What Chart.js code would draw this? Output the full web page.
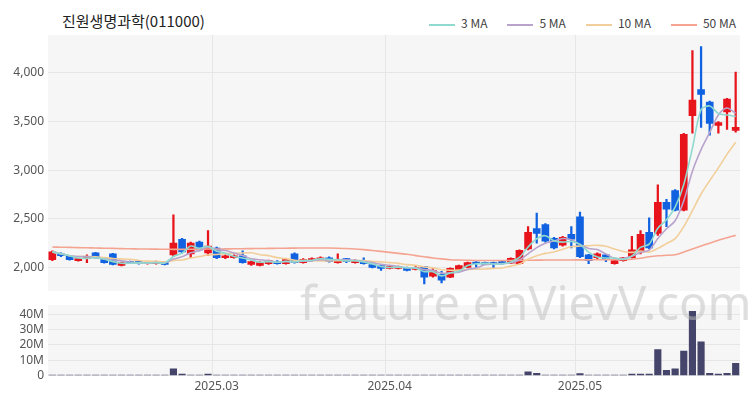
<!DOCTYPE html>
<html><head><meta charset="utf-8">
<script src="https://cdn.jsdelivr.net/npm/chart.js@4"></script>
<style>
body{margin:0;width:750px;height:400px;background:#fff;font-family:"Noto Sans CJK KR","Noto Sans",sans-serif;position:relative;overflow:hidden}
canvas{position:absolute;left:0}
#title{position:absolute;left:62px;top:10px;font-size:15px;color:#222}
#legend{position:absolute;right:14px;top:14px;font-size:12px;color:#444;display:flex;gap:20px}
#legend span i{display:inline-block;width:26px;height:2px;vertical-align:middle;margin-right:6px}
#wm{position:absolute;left:300px;top:270px;font-size:47px;color:rgba(190,190,190,0.5);font-family:"Noto Sans",sans-serif;z-index:5}
</style></head>
<body>
<div id="title">진원생명과학(011000)</div>
<div id="legend">
<span><i style="background:#8fd9cf"></i>3 MA</span>
<span><i style="background:#b9a3cc"></i>5 MA</span>
<span><i style="background:#f2cf9a"></i>10 MA</span>
<span><i style="background:#f4a491"></i>50 MA</span>
</div>
<div id="wm">feature.enVievV.com</div>
<canvas id="price" width="750" height="302" style="top:0"></canvas>
<canvas id="vol" width="750" height="106" style="top:294px"></canvas>
<script>
// 거래일 (2025.02.04 ~ 2025.05.30)
const holidays = ['2025-03-03','2025-05-01','2025-05-05','2025-05-06'];
const dates = [];
for (let d = new Date(Date.UTC(2025,1,4)); d <= new Date(Date.UTC(2025,4,30)); d.setUTCDate(d.getUTCDate()+1)) {
	const s = d.toISOString().slice(0,10);
	if (d.getUTCDay() === 0 || d.getUTCDay() === 6 || holidays.includes(s)) continue;
	dates.push(s);
}
const tickDates = ['2025-03-04','2025-04-01','2025-05-02'];
const tickLabels = ['2025.03','2025.04','2025.05'];

const opens  = [2080,2140,2120,2070,2090,2150,2090,2140,2020,2060, 2060,2040,2040,2050,2130,2290,2140,2260,2150,2200,
	2100,2100,2120,2030,2020,2040,2060,2040,2140,2050, 2070,2080,2100,2050,2090,2050,2060,2030,2020,1990,
	1990,2000,1980,2010,1910,1930,1900,1970,2000,2055, 2050,2050,2060,2045,2040,2190,2400,2440,2300,2230,
	2340,2520,2130,2100,2130,2040,2070,2100,2160,2360, 2350,2670,2790,2590,3560,3830,3700,3460,3600,3410];
const closes = [2160,2120,2080,2090,2110,2100,2050,2030,2050,2050, 2040,2050,2060,2030,2250,2160,2250,2180,2220,2100,
	2120,2120,2050,2060,2050,2070,2040,2080,2050,2080, 2090,2100,2060,2080,2060,2070,2040,2000,1990,2010,
	2010,1970,2000,1900,1970,1870,1990,2020,2050,2040, 2035,2030,2040,2095,2175,2360,2350,2270,2200,2310,
	2290,2110,2070,2140,2080,2070,2100,2180,2340,2200, 2670,2600,2590,3370,3720,3780,3480,3490,3730,3440];
const highs  = [2170,2150,2125,2095,2130,2155,2095,2145,2055,2065, 2065,2055,2065,2055,2540,2300,2260,2270,2380,2210,
	2130,2130,2170,2065,2060,2075,2070,2085,2150,2090, 2100,2110,2110,2140,2095,2080,2100,2040,2025,2020,
	2015,2005,2010,2010,1990,1960,1995,2025,2055,2060, 2055,2055,2065,2100,2180,2420,2560,2450,2310,2320,
	2420,2570,2135,2150,2135,2075,2105,2320,2380,2510, 2850,2700,2800,3380,4230,4270,3710,3500,3740,4010];
const lows   = [2070,2110,2075,2065,2050,2095,2045,2025,2015,2045, 2035,2035,2035,2025,2110,2150,2100,2170,2120,2090,
	2090,2095,2045,2020,2015,2030,2035,2035,2045,2045, 2065,2075,2055,2045,2050,2045,2035,1995,1970,1985,
	1985,1965,1975,1830,1900,1840,1895,1965,1995,2000, 2030,1990,2035,2040,2035,2180,2250,2260,2190,2220,
	2200,2100,2040,2090,2060,2035,2065,2095,2140,2190, 2330,2420,2580,2580,3380,3440,3360,3380,3420,3390];
const ma50 = [2210,2208,2206,2204,2202,2200,2198,2196,2194,2192, 2190,2189,2188,2187,2186,2186,2187,2188,2189,2190,
	2191,2192,2193,2194,2195,2196,2197,2198,2199,2200, 2200,2200,2200,2198,2195,2190,2183,2175,2165,2155,
	2145,2135,2122,2110,2098,2088,2080,2076,2074,2072, 2072,2072,2072,2072,2073,2074,2075,2076,2076,2077,
	2077,2078,2078,2079,2079,2080,2082,2085,2095,2110, 2120,2125,2130,2160,2190,2220,2250,2280,2305,2330];
const volumes = [0.3,0.2,0.2,0.2,0.2,0.3,0.2,0.3,0.2,0.2, 0.2,0.2,0.2,0.2,4.5,1.0,0.4,0.2,1.0,0.3,
	0.2,0.2,0.2,0.2,0.2,0.2,0.2,0.2,0.2,0.2, 0.2,0.2,0.2,0.2,0.2,0.2,0.2,0.2,0.2,0.2,
	0.2,0.2,0.2,0.4,0.2,0.3,0.3,0.2,0.2,0.2, 0.2,0.2,0.2,0.3,0.4,2.5,1.5,0.4,0.3,0.3,
	0.4,1.3,0.3,0.3,0.3,0.2,0.3,1.0,1.0,1.0, 17,3.5,4.5,16,42,22,1.5,1.0,1.5,8].map(v => v*1e6);

const RED = '#e8141c', BLUE = '#1162e0';
const up = closes.map((c,i) => c >= opens[i]);
const candleColor = up.map(u => u ? RED : BLUE);

function movingAvg(n){
	return closes.map((c,i) => {
		const from = Math.max(0, i-n+1);
		const part = closes.slice(from, i+1);
		return part.reduce((a,b)=>a+b,0)/part.length;
	});
}

const plotBg = {
	id:'plotBg',
	beforeDraw(chart){
		const {ctx, chartArea:a} = chart;
		ctx.save(); ctx.fillStyle = '#f6f6f6';
		ctx.fillRect(a.left, a.top, a.right-a.left, a.bottom-a.top);
		ctx.restore();
	}
};

const xGrid = {color: ctx => ctx.tick && tickDates.includes(dates[ctx.tick.value]) ? '#e6e6e6' : 'rgba(0,0,0,0)', drawTicks:false};
const fixWidth = s => { s.width = 48; };
const tickFont = {family:'"Noto Sans", sans-serif', size:12};

function maLine(label, data, color){
	return {type:'line', label, data, borderColor:color, borderWidth:1.6, pointRadius:0, tension:0.3, order:0};
}

new Chart(document.getElementById('price'), {
	data: {
		labels: dates,
		datasets: [
			maLine('3 MA', movingAvg(3), '#8fd9cf'),
			maLine('5 MA', movingAvg(5), '#b9a3cc'),
			maLine('10 MA', movingAvg(10), '#f2cf9a'),
			maLine('50 MA', ma50, '#f4a491'),
			{type:'bar', data: lows.map((l,i)=>[l,highs[i]]), backgroundColor:candleColor, barThickness:1.6, grouped:false, order:2},
			{type:'bar', data: opens.map((o,i)=>[o,closes[i]]), backgroundColor:candleColor, barThickness:7, grouped:false, order:1},
		]
	},
	options: {
		responsive:false, animation:false,
		layout:{padding:{top:35,right:10,bottom:2}},
		plugins:{legend:{display:false}, tooltip:{enabled:false}},
		scales:{
			x:{offset:true, grid:xGrid, ticks:{display:false, padding:0}, border:{display:false},
				afterFit: s => { s.height = 0; }},
			y:{min:1760, max:4390, afterFit:fixWidth,
				afterBuildTicks: s => { s.ticks = [2000,2500,3000,3500,4000].map(v=>({value:v})); },
				ticks:{font:tickFont, color:'#555', padding:4, callback:v=>v.toLocaleString('en-US')},
				grid:{color:'#e6e6e6', drawTicks:false}, border:{display:false}}
		}
	},
	plugins:[plotBg]
});

new Chart(document.getElementById('vol'), {
	type:'bar',
	data:{labels:dates, datasets:[{data:volumes, backgroundColor:'#45456b', barThickness:6.5}]},
	options:{
		responsive:false, animation:false,
		layout:{padding:{top:4,right:10,bottom:2}},
		plugins:{legend:{display:false}, tooltip:{enabled:false}},
		scales:{
			x:{offset:true, grid:xGrid, border:{display:false},
				ticks:{autoSkip:false, maxRotation:0, font:tickFont, color:'#555', padding:4,
					callback:(v,i)=>{ const k = tickDates.indexOf(dates[i]); return k>=0 ? tickLabels[k] : ''; }}},
			y:{min:0, max:46e6, afterFit:fixWidth,
				afterBuildTicks: s => { s.ticks = [0,1e7,2e7,3e7,4e7].map(v=>({value:v})); },
				ticks:{font:tickFont, color:'#555', padding:4, callback:v=> v===0 ? '0' : (v/1e6)+'M'},
				grid:{color:'#e6e6e6', drawTicks:false}, border:{display:false}}
		}
	},
	plugins:[plotBg]
});
</script>
</body></html>
